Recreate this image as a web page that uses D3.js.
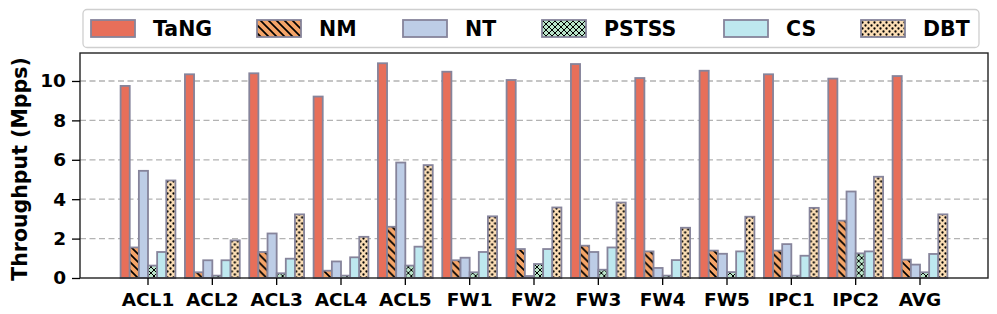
<!DOCTYPE html>
<html>
<head>
<meta charset="utf-8">
<script src="https://cdn.jsdelivr.net/npm/d3@7"></script>
<style>
  html, body { margin: 0; padding: 0; background: #fff; }
  svg { display: block; }
  text { font-family: "DejaVu Sans", sans-serif; font-weight: bold; fill: #000; }
</style>
</head>
<body>
<svg id="chart" width="997" height="314"></svg>
<script>
const categories = ["ACL1","ACL2","ACL3","ACL4","ACL5","FW1","FW2","FW3","FW4","FW5","IPC1","IPC2","AVG"];
const seriesNames = ["TaNG","NM","NT","PSTSS","CS","DBT"];
const TaNG  = [9.75, 10.34, 10.39, 9.21, 10.90, 10.47, 10.05, 10.86, 10.15, 10.52, 10.34, 10.12, 10.25];
const NM    = [1.55, 0.29, 1.32, 0.37, 2.60, 0.90, 1.47, 1.64, 1.35, 1.39, 1.39, 2.91, 0.93];
const NT    = [5.44, 0.90, 2.26, 0.84, 5.86, 1.03, 0.10, 1.32, 0.51, 1.23, 1.72, 4.39, 0.68];
const PSTSS = [0.63, 0.12, 0.24, 0.12, 0.63, 0.29, 0.71, 0.42, 0.12, 0.30, 0.12, 1.25, 0.29];
const CS    = [1.32, 0.90, 0.98, 1.05, 1.59, 1.32, 1.47, 1.55, 0.91, 1.35, 1.13, 1.35, 1.22];
const DBT   = [4.95, 1.91, 3.23, 2.09, 5.73, 3.13, 3.58, 3.83, 2.55, 3.11, 3.56, 5.14, 3.23];
const yTicks = [0, 2, 4, 6, 8, 10];
const yLabel = "Throughput (Mpps)";

const seriesValues = [TaNG, NM, NT, PSTSS, CS, DBT];
const fills = ["#E76F5A", "#F4A468", "#BDCDE6", "#B9E4C9", "#BEE8EF", "#FBDDB4"];
const hatches = [null, "diag", null, "cross", null, "dots"];
const edge = "#86849B";

const svg = d3.select("#chart");
const defs = svg.append("defs");

function makePattern(id, bg, drawFn, size) {
  const p = defs.append("pattern").attr("id", id)
    .attr("patternUnits", "userSpaceOnUse")
    .attr("width", size).attr("height", size);
  p.append("rect").attr("width", size).attr("height", size).attr("fill", bg);
  drawFn(p, size);
}
makePattern("h-diag", fills[1], (p, s) => {
  p.append("path").attr("d", `M0,0L${s},${s}M${-s/2},${s/2}L${s/2},${s*1.5}M${s/2},${-s/2}L${s*1.5},${s/2}`)
    .attr("stroke", "#000").attr("stroke-width", 1.7);
}, 8);
makePattern("h-cross", fills[3], (p, s) => {
  p.append("path").attr("d", `M0,0L${s},${s}M0,${s}L${s},0M${-s/2},${s/2}L${s/2},${s*1.5}M${s/2},${-s/2}L${s*1.5},${s/2}M${-s/2},${s/2}L${s/2},${-s/2}M${s/2},${s*1.5}L${s*1.5},${s/2}`)
    .attr("stroke", "#000").attr("stroke-width", 1.0);
}, 6);
makePattern("h-dots", fills[5], (p, s) => {
  [[1.5, 1.5], [1.5 + s/2, 1.5 + s/2]].forEach(([cx, cy]) => {
    p.append("circle").attr("cx", cx).attr("cy", cy).attr("r", 1.15).attr("fill", "#000");
  });
}, 6);

function fillFor(i) {
  return hatches[i] ? `url(#h-${hatches[i]})` : fills[i];
}

const mLeft = 80, mRight = 988, mTop = 53, mBottom = 278;

const x = d3.scaleBand().domain(categories).range([mLeft, mRight]).paddingInner(0).paddingOuter(0.557);
const barW = x.step() * 0.142;
const xs = d3.scaleBand().domain(seriesNames).range([-3 * barW, 3 * barW]);
const y = d3.scaleLinear().domain([0, 11.42]).range([mBottom, mTop]);

// grid
svg.append("g").selectAll("line").data(yTicks.filter(d => d > 0)).join("line")
  .attr("x1", mLeft).attr("x2", mRight)
  .attr("y1", d => y(d)).attr("y2", d => y(d))
  .attr("stroke", "#b3b3b3").attr("stroke-width", 1.3)
  .attr("stroke-dasharray", "6,3.5");

// bars
const groups = svg.append("g").selectAll("g").data(categories).join("g")
  .attr("transform", d => `translate(${x(d) + x.bandwidth() / 2},0)`);
groups.selectAll("rect").data((c, ci) => seriesNames.map((s, si) => ({ s, si, v: seriesValues[si][ci] })))
  .join("rect")
  .attr("x", d => xs(d.s))
  .attr("width", xs.bandwidth())
  .attr("y", d => y(d.v))
  .attr("height", d => y(0) - y(d.v))
  .attr("fill", d => fillFor(d.si))
  .attr("stroke", edge).attr("stroke-width", 1.8);

// frame
svg.append("rect").attr("x", mLeft).attr("y", mTop).attr("width", mRight - mLeft).attr("height", mBottom - mTop)
  .attr("fill", "none").attr("stroke", "#222").attr("stroke-width", 1.4);

// axes
const yAxis = svg.append("g").attr("transform", `translate(${mLeft},0)`)
  .call(d3.axisLeft(y).tickValues(yTicks).tickSize(8).tickPadding(6).tickFormat(d3.format("d")));
yAxis.select(".domain").remove();
yAxis.selectAll("line").attr("stroke", "#000").attr("stroke-width", 1.3);
yAxis.selectAll("text").style("font-size", "18.5px").style("font-family", "'DejaVu Sans'").style("font-weight", "bold");

const xAxis = svg.append("g").attr("transform", `translate(0,${mBottom})`)
  .call(d3.axisBottom(x).tickSize(7).tickPadding(8));
xAxis.select(".domain").remove();
xAxis.selectAll("line").attr("stroke", "#000").attr("stroke-width", 1.3);
xAxis.selectAll("text").style("font-size", "18.5px").style("font-family", "'DejaVu Sans'").style("font-weight", "bold");

// y label
svg.append("text").attr("transform", `translate(26.5,${(mTop + mBottom) / 2 + 3.5}) rotate(-90)`)
  .attr("text-anchor", "middle").style("font-size", "20.5px").text(yLabel);

// legend
const lg = svg.append("g");
lg.append("rect").attr("x", 83).attr("y", 9.5).attr("width", 896).attr("height", 38).attr("rx", 4)
  .attr("fill", "#fff").attr("stroke", "#cfcfcf").attr("stroke-width", 1.3);
const legendX = [91, 257, 403, 542, 724, 861];
seriesNames.forEach((s, i) => {
  lg.append("rect").attr("x", legendX[i]).attr("y", 20).attr("width", 44).attr("height", 17)
    .attr("fill", fillFor(i)).attr("stroke", edge).attr("stroke-width", 1.8);
  lg.append("text").attr("x", legendX[i] + 62).attr("y", 35.5).style("font-size", "20.5px").text(s);
});
</script>
</body>
</html>
